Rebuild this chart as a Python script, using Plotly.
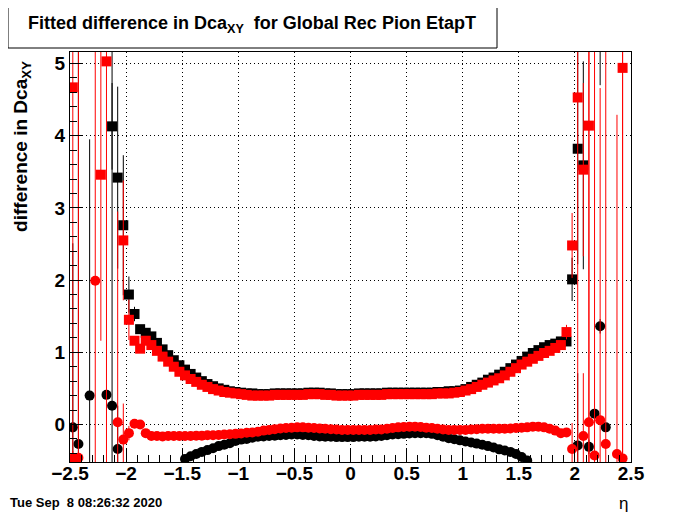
import plotly.graph_objects as go

# bin centres in eta (100 bins of 0.05 from -2.5 to 2.5)
eta = [round(-2.475 + 0.05 * i, 3) for i in range(100)]
N = None

# upper band: black squares
black_sq = [N, N, N, N, N, N, N, 4.13, 3.42, 2.76,
            1.80, 1.53, 1.32, 1.27, 1.22, 1.13, 1.04, 0.96, 0.89, 0.82,
            0.76, 0.70, 0.65, 0.60, 0.56, 0.53, 0.50, 0.48, 0.46, 0.45,
            0.44, 0.43, 0.43, 0.42, 0.42, 0.42, 0.43, 0.43, 0.43, 0.43,
            0.43, 0.43, 0.44, 0.44, 0.44, 0.43, 0.43, 0.42, 0.42, 0.42,
            0.42, 0.43, 0.43, 0.43, 0.43, 0.43, 0.44, 0.44, 0.44, 0.44,
            0.44, 0.44, 0.44, 0.44, 0.44, 0.45, 0.45, 0.46, 0.46, 0.47,
            0.49, 0.52, 0.55, 0.58, 0.62, 0.65, 0.69, 0.73, 0.78, 0.83,
            0.88, 0.94, 0.99, 1.03, 1.07, 1.10, 1.12, 1.15, 1.15, 2.01,
            3.82, 3.59, N, N, 6.50, N, N, N, N, N]
black_sq_err = {7: 0.6, 8: 1.26, 9: 0.97, 10: 0.25, 11: 0.10, 88: 0.05,
                89: 0.30, 90: 1.60, 91: 1.44, 94: 1.80}

# upper band: red squares
red_sq = [4.67, N, N, N, N, 3.46, 5.03, N, N, 2.55,
          1.45, 1.16, 1.05, 1.16, 1.10, 1.02, 0.94, 0.87, 0.80, 0.73,
          0.68, 0.63, 0.59, 0.55, 0.52, 0.49, 0.47, 0.45, 0.44, 0.43,
          0.42, 0.41, 0.40, 0.40, 0.40, 0.40, 0.41, 0.41, 0.41, 0.41,
          0.41, 0.41, 0.42, 0.42, 0.42, 0.41, 0.41, 0.40, 0.40, 0.40,
          0.40, 0.41, 0.41, 0.41, 0.41, 0.41, 0.42, 0.42, 0.42, 0.42,
          0.42, 0.42, 0.42, 0.42, 0.42, 0.43, 0.43, 0.43, 0.44, 0.45,
          0.47, 0.49, 0.52, 0.55, 0.58, 0.61, 0.64, 0.68, 0.73, 0.78,
          0.83, 0.87, 0.91, 0.95, 0.99, 1.02, 1.06, 1.10, 1.28, 2.48,
          4.53, 3.53, 4.14, N, N, N, N, N, 4.94, N]
red_sq_err = {0: 6.0, 5: 2.3, 6: 6.0, 9: 0.83, 10: 0.28, 11: 0.05,
              88: 0.10, 89: 0.45, 90: 6.0, 91: 1.2, 92: 6.0, 98: 6.0}

# lower band: black circles
black_ci = [-0.04, -0.27, N, 0.40, N, N, 0.41, 0.26, -0.34, N,
            N, N, N, N, N, N, N, N, N, N,
            -0.48, -0.44, -0.41, -0.38, -0.355, -0.33, -0.30, -0.28, -0.26, -0.23,
            -0.21, -0.20, -0.185, -0.17, -0.165, -0.16, -0.155, -0.15, -0.145, -0.14,
            -0.14, -0.145, -0.15, -0.16, -0.165, -0.17, -0.17, -0.175, -0.175, -0.175,
            -0.175, -0.17, -0.17, -0.17, -0.165, -0.16, -0.15, -0.14, -0.135, -0.13,
            -0.125, -0.12, -0.12, -0.12, -0.13, -0.15, -0.17, -0.19, -0.205, -0.22,
            -0.235, -0.25, -0.265, -0.28, -0.30, -0.32, -0.345, -0.36, -0.38, -0.41,
            -0.45, -0.50, N, N, N, N, N, N, N, N,
            -0.29, N, -0.31, 0.15, 1.36, -0.04, N, N, N, N]
black_ci_err = {0: 2.55, 1: 7.0, 3: 3.55, 6: 0.05, 7: 6.0, 8: 0.6,
                90: 1.0, 92: 0.1, 93: 0.05, 94: 0.1, 95: 0.05}

# lower band: red circles
red_ci = [-0.47, -0.46, N, N, 1.99, N, N, N, 0.03, -0.21,
          -0.12, 0.01, 0.00, -0.12, -0.16, -0.16, -0.165, -0.16, -0.16, -0.16,
          -0.16, -0.16, -0.155, -0.155, -0.15, -0.15, -0.145, -0.14, -0.135, -0.13,
          -0.125, -0.115, -0.11, -0.10, -0.085, -0.075, -0.065, -0.055, -0.05, -0.045,
          -0.04, -0.04, -0.045, -0.05, -0.055, -0.06, -0.065, -0.07, -0.075, -0.075,
          -0.075, -0.075, -0.075, -0.075, -0.07, -0.07, -0.06, -0.05, -0.04, -0.035,
          -0.03, -0.03, -0.035, -0.045, -0.05, -0.06, -0.07, -0.075, -0.075, -0.075,
          -0.075, -0.07, -0.065, -0.06, -0.06, -0.06, -0.06, -0.06, -0.055, -0.05,
          -0.045, -0.04, -0.03, -0.03, -0.04, -0.06, -0.085, -0.12, -0.11, -0.34,
          N, -0.16, 0.03, -0.43, 0.06, -0.27, N, -0.41, -0.47, N]
red_ci_err = {0: 0.1, 1: 7.0, 4: 7.0, 8: 2.92, 9: 0.5, 10: 0.1,
              89: 0.36, 91: 0.87, 92: 7.0, 93: 7.0, 94: 4.6, 95: 7.0,
              97: 4.7, 98: 7.0}

x_ticks = [-2.5, -2, -1.5, -1, -0.5, 0, 0.5, 1, 1.5, 2, 2.5]
x_tick_text = ["\u22122.5", "\u22122", "\u22121.5", "\u22121", "\u22120.5", "0",
               "0.5", "1", "1.5", "2", "2.5"]
y_ticks = [0, 1, 2, 3, 4, 5]

title_text = "Fitted difference in Dca<sub>XY</sub>  for Global Rec Pion EtapT"
ytitle_text = "difference in Dca<sub>XY</sub>"
xtitle_text = "\u03b7"
stamp_text = "Tue Sep  8 08:26:32 2020"

BLACK = "#000000"
RED = "#ff0000"


def errs(d):
    return [d.get(i, 0.012) for i in range(100)]


def trace(vals, errd, color, symbol, size):
    return go.Scatter(
        x=eta, y=vals, mode="markers",
        marker=dict(color=color, symbol=symbol, size=size, line=dict(width=0)),
        error_y=dict(type="data", array=errs(errd), visible=True,
                     color=color, thickness=1, width=0),
        showlegend=False, cliponaxis=True,
    )


fig = go.Figure()
fig.add_trace(trace(black_sq, black_sq_err, BLACK, "square", 10))
fig.add_trace(trace(black_ci, black_ci_err, BLACK, "circle", 10))
fig.add_trace(trace(red_sq, red_sq_err, RED, "square", 10))
fig.add_trace(trace(red_ci, red_ci_err, RED, "circle", 10))

# the page body has an 8px margin, so the figure is drawn 8px smaller and
# all positions below are given in page pixels of the 700x514 window
OFF = 8
FW, FH = 700 - OFF, 514 - OFF
L, R, T, B = 70, 631, 52, 462.5      # plot frame in page pixels
W, H = R - L, B - T


def px(x):
    return (x - L) / W


def py(y):
    return (B - y) / H


tickfont = dict(family="Liberation Sans", size=19, color="black", weight="bold")
GRIDDASH = "1px,3px"

fig.update_layout(
    width=FW, height=FH,
    margin=dict(l=L - OFF, r=FW - (R - OFF), t=T - OFF, b=FH - (B - OFF),
                pad=0, autoexpand=False),
    paper_bgcolor="white", plot_bgcolor="white",
    xaxis=dict(range=[-2.5, 2.5], tickvals=x_ticks, ticktext=x_tick_text,
               automargin=False, ticklabelstandoff=-6,
               ticks="inside", ticklen=13, tickcolor="black", tickwidth=1,
               showline=True, linecolor="black", linewidth=1, mirror=True,
               showgrid=True, gridcolor="black", griddash=GRIDDASH, gridwidth=1,
               zeroline=False, tickfont=tickfont,
               minor=dict(dtick=0.1, tick0=0, ticks="inside", ticklen=7,
                          tickcolor="black", showgrid=False)),
    yaxis=dict(range=[-0.52, 5.16], tickvals=y_ticks,
               automargin=False,
               ticks="inside", ticklen=13, tickcolor="black", tickwidth=1,
               showline=True, linecolor="black", linewidth=1, mirror=True,
               showgrid=True, gridcolor="black", griddash=GRIDDASH, gridwidth=1,
               zeroline=False, tickfont=tickfont,
               minor=dict(dtick=0.2, tick0=0, ticks="inside", ticklen=7,
                          tickcolor="black", showgrid=False)),
)

fig.add_shape(type="rect", xref="paper", yref="paper",
              x0=px(8), x1=px(497), y0=py(48), y1=py(6),
              line=dict(color="black", width=1), fillcolor="white")

fig.add_annotation(text=title_text, xref="paper", yref="paper",
                   x=px(252), y=py(24), xanchor="center", yanchor="middle",
                   showarrow=False,
                   font=dict(family="Liberation Sans", size=18, color="black",
                             weight="bold"))
fig.add_annotation(text=ytitle_text, xref="paper", yref="paper",
                   x=px(22), y=py(147), xanchor="center", yanchor="middle",
                   textangle=-90, showarrow=False,
                   font=dict(family="Liberation Sans", size=19, color="black",
                             weight="bold"))
fig.add_annotation(text=xtitle_text, xref="paper", yref="paper",
                   x=px(623), y=py(504), xanchor="center", yanchor="middle",
                   showarrow=False,
                   font=dict(family="Liberation Sans", size=17, color="black"))
fig.add_annotation(text=stamp_text, xref="paper", yref="paper",
                   x=px(OFF), y=py(503), xanchor="left", yanchor="middle",
                   showarrow=False,
                   font=dict(family="Liberation Sans", size=13, color="black",
                             weight="bold"))

fig.write_html("out.html")
